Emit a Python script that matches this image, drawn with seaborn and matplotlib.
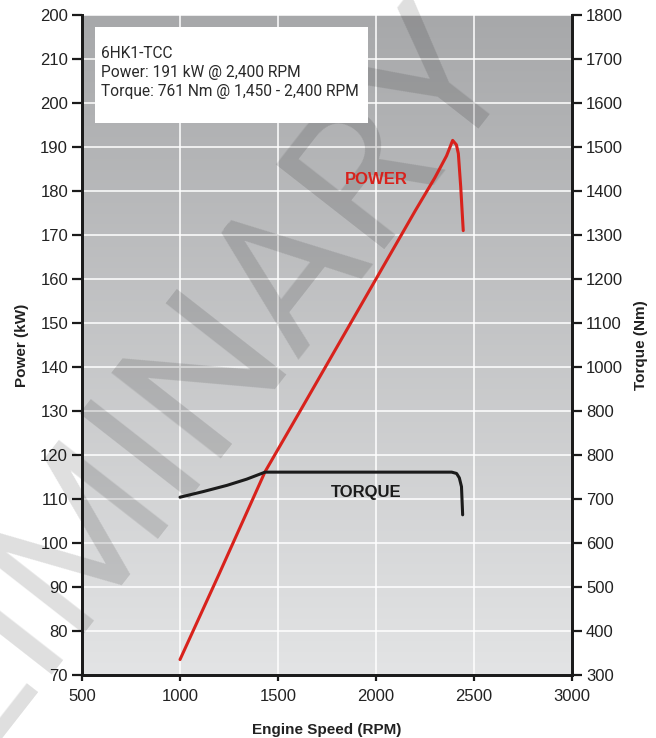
import numpy as np
import pandas as pd
import matplotlib
matplotlib.use("Agg")
import matplotlib.pyplot as plt
from matplotlib.patches import Rectangle
import seaborn as sns

# --- DATA ---
power_rpm = [1000, 1200, 1434, 1600, 1800, 2000, 2200, 2300, 2360, 2391, 2410, 2420, 2432, 2445]
power_kw = [73.5, 93, 116.2, 129, 144.5, 160, 175.5, 183, 188, 191.5, 190.5, 188.5, 181, 171]

torque_rpm = [1000, 1120, 1240, 1340, 1434, 1700, 2000, 2300, 2386, 2411, 2425, 2436, 2442]
torque_nm = [704, 717, 731, 745, 761, 761, 761, 761, 761, 758, 748, 728, 664]

x_ticks = [500, 1000, 1500, 2000, 2500, 3000]
power_ticks = list(range(70, 230, 10))
# labels as printed on the original sheet (including its typos)
power_labels = ["70", "80", "90", "100", "110", "120", "130", "140", "150", "160",
                "170", "180", "190", "200", "210", "200"]
torque_ticks = list(range(300, 1900, 100))
torque_labels = ["300", "400", "500", "600", "700", "800", "800", "1000", "1100",
                 "1200", "1300", "1400", "1500", "1600", "1700", "1800"]

info_lines = ["6HK1-TCC",
              "Power: 191 kW @ 2,400 RPM",
              "Torque: 761 Nm @ 1,450 - 2,400 RPM"]

power_df = pd.DataFrame({"rpm": power_rpm, "power": power_kw})
torque_df = pd.DataFrame({"rpm": torque_rpm, "torque": torque_nm})

# --- STYLE ---
sns.set_theme(style="ticks")
plt.rcParams["font.family"] = ["Liberation Sans", "DejaVu Sans"]
RED = "#d8221c"
DARK = "#1b1b1b"
INFO_FONT = ["Roboto", "DejaVu Sans"]

fig = plt.figure(figsize=(6.56, 7.38), dpi=100)
ax = fig.add_axes([0.125, 0.0854, 0.747, 0.8943])
ax2 = ax.twinx()

# grey gradient background, darker at the top
grad = np.linspace(0, 1, 256).reshape(-1, 1)
cmap = matplotlib.colors.LinearSegmentedColormap.from_list("bg", ["#e3e4e5", "#a7a8aa"])
ax.imshow(grad, cmap=cmap, aspect="auto", origin="lower",
          extent=[500, 3000, 70, 220], zorder=0)

ax.set_xlim(500, 3000)
ax.set_ylim(70, 220)
ax2.set_ylim(300, 1800)

ax.set_xticks(x_ticks)
ax.set_yticks(power_ticks)
ax.set_yticklabels(power_labels)
ax2.set_yticks(torque_ticks)
ax2.set_yticklabels(torque_labels)

ax.grid(True, color="white", linewidth=1.1)
ax.set_axisbelow(True)

for a in (ax, ax2):
    a.spines["top"].set_visible(False)
    for side in ("left", "right", "bottom"):
        a.spines[side].set_linewidth(2)
        a.spines[side].set_color(DARK)
    a.tick_params(axis="both", direction="out", length=7, width=1.6,
                  color=DARK, labelsize=12, labelcolor="#222222", pad=3)
ax.tick_params(axis="x", length=4, pad=6)
ax2.patch.set_visible(False)

# watermark
ax.text(0.14, 0.30, "PRELIMINARY", transform=fig.transFigure, rotation=52,
        fontsize=140, family=INFO_FONT, fontweight="normal", color="black", alpha=0.13,
        ha="center", va="center", clip_on=False, zorder=1.5)

# info box
ax.add_patch(Rectangle((0.0265, 0.836), 0.557, 0.146, transform=ax.transAxes,
                       facecolor="white", edgecolor="none", zorder=3))
ax.text(0.039, 0.953, "\n".join(info_lines), transform=ax.transAxes,
        ha="left", va="top", fontsize=11.2, family=INFO_FONT, color="#2a2a2a",
        linespacing=1.35, zorder=4)

sns.lineplot(data=power_df, x="rpm", y="power", ax=ax, color=RED,
             linewidth=2.2, estimator=None, sort=False, zorder=5)
sns.lineplot(data=torque_df, x="rpm", y="torque", ax=ax2, color=DARK,
             linewidth=2.2, estimator=None, sort=False, zorder=5)

ax.text(2000, 182.5, "POWER", color=RED, fontsize=12, fontweight="bold",
        ha="center", va="center", zorder=6, family=["Liberation Sans", "DejaVu Sans"])
ax2.text(1950, 714, "TORQUE", color=DARK, fontsize=12, fontweight="bold",
         ha="center", va="center", zorder=6, family=["Liberation Sans", "DejaVu Sans"])

ax.set_xlabel("Engine Speed (RPM)", fontsize=11, fontweight="bold", color="#222222", labelpad=14)
ax.set_ylabel("Power (kW)", fontsize=11, fontweight="bold", color="#222222", labelpad=8)
ax2.set_ylabel("Torque (Nm)", fontsize=11, fontweight="bold", color="#222222",
               rotation=90, labelpad=8)

fig.savefig("out.png", dpi=100)
plt.close(fig)
